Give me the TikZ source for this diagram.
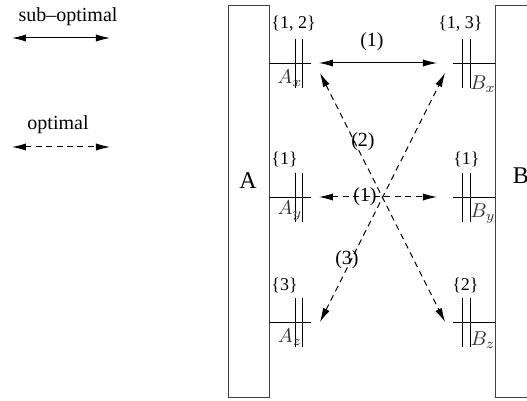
\documentclass[tikz,border=0pt]{standalone}
\usepackage{fontspec}
\setmainfont{Liberation Serif}
\usepackage{tikz}
\usetikzlibrary{arrows.meta, positioning}
\tikzset{
    edgeline/.style={line width=0.45pt, black!75},
    portline/.style={line width=0.45pt},
    suboptarrow/.style={{Latex[length=7pt,width=3.6pt]}-{Latex[length=7pt,width=3.6pt]}, line width=0.5pt},
    optarrow/.style={suboptarrow, dash pattern=on 3pt off 2.2pt},
    setlabel/.style={font=\small, inner sep=0pt},
    portname/.style={inner sep=0pt, black!80}
}

\begin{document}
\begin{tikzpicture}[x=0.5pt, y=-0.5pt]
    \useasboundingbox (0,0) rectangle (527,401);
    % LEGEND
    \node (subopt) at (68,17) {sub--optimal};
    \coordinate (subL) at (12,38);
    \coordinate (subR) at (110,38);
    \draw[suboptarrow] (subL) -- (subR);
    \node (opt) at (58,125) {optimal};
    \coordinate (optL) at (12,147);
    \coordinate (optR) at (110,147);
    \draw[optarrow] (optL) -- (optR);
    % BLOCK A (left)
    \draw[edgeline] (228,5) rectangle (269,397);
    \node[font=\large] (labA) at (248,181) {A};
    % BLOCK B (right, runs off the page)
    \draw[edgeline] (527,5) -- (495,5) -- (495,397) -- (527,397);
    \node[font=\large] (labB) at (521,176) {B};
    % Ports of A
    \draw[portline] (269,63) -- (311,63) (295,39) -- (295,88) (302,39) -- (302,88);
    \draw[portline] (269,197) -- (311,197) (295,173) -- (295,222) (302,173) -- (302,222);
    \draw[portline] (269,322) -- (311,322) (295,298) -- (295,347) (302,298) -- (302,347);
    \node[setlabel, anchor=west] (setAx) at (271,24) {\{1, 2\}};
    \node[setlabel, anchor=west] (setAy) at (271,159) {\{1\}};
    \node[setlabel, anchor=west] (setAz) at (271,285) {\{3\}};
    \node[portname] (nameAx) at (290,78) {$A_x$};
    \node[portname] (nameAy) at (290,211) {$A_y$};
    \node[portname] (nameAz) at (290,337) {$A_z$};
    % Ports of B
    \draw[portline] (453,63) -- (495,63) (462,39) -- (462,88) (470,39) -- (470,88);
    \draw[portline] (453,197) -- (495,197) (462,173) -- (462,222) (470,173) -- (470,222);
    \draw[portline] (453,322) -- (495,322) (462,298) -- (462,347) (470,298) -- (470,347);
    \node[setlabel, anchor=east] (setBx) at (483,24) {\{1, 3\}};
    \node[setlabel, anchor=east] (setBy) at (480,159) {\{1\}};
    \node[setlabel, anchor=east] (setBz) at (479,285) {\{2\}};
    \node[portname] (nameBx) at (483,84) {$B_x$};
    \node[portname] (nameBy) at (483,214) {$B_y$};
    \node[portname] (nameBz) at (483,340) {$B_z$};
    % Arrow ends
    \coordinate (Ax) at (319,63);
    \coordinate (Bx) at (437,63);
    \coordinate (Axd) at (320,73);
    \coordinate (Bxd) at (445,73);
    \coordinate (Ay) at (319,197);
    \coordinate (By) at (437,197);
    \coordinate (Az) at (320,322);
    \coordinate (Bz) at (445,322);
    % Pairings
    \draw[suboptarrow] (Ax) -- (Bx);
    \node (lab1top) at (372,42) {(1)};
    \draw[optarrow] (Ay) -- (By);
    \node (lab1mid) at (365,197) {(1)};
    \draw[optarrow] (Axd) -- (Bz);
    \node (lab2) at (363,142) {(2)};
    \draw[optarrow] (Az) -- (Bxd);
    \node (lab3) at (347,260) {(3)};
\end{tikzpicture}
\end{document}
